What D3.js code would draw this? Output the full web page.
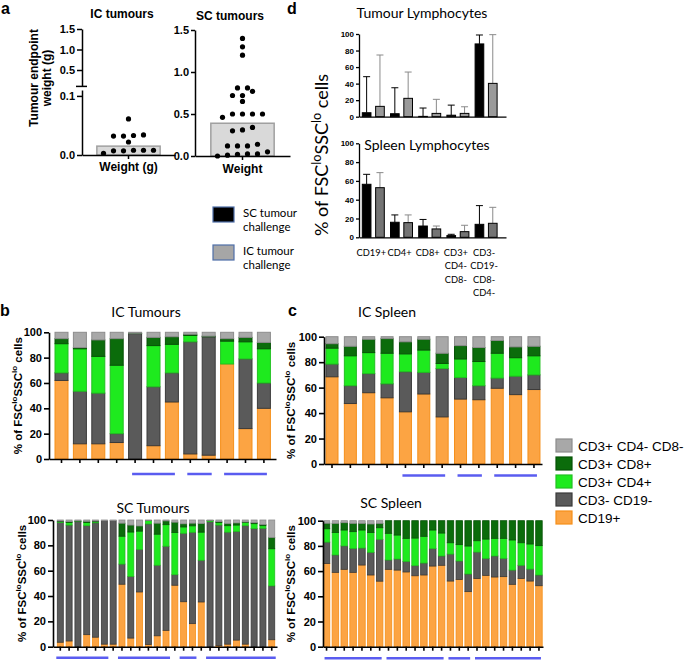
<!DOCTYPE html>
<html>
<head>
<meta charset="utf-8">
<script src="https://cdn.jsdelivr.net/npm/d3@7"></script>
<style>
body { margin: 0; background: #fff; }
svg { display: block; }
</style>
</head>
<body>
<svg id="fig" width="685" height="660"></svg>
<script>
/* ---------------- data ---------------- */
// panel a: tumour endpoint weights (g)
var icWeights = [0.007, 0.008, 0.007, 0.008, 0.003, 0.008, 0.022, 0.032, 0.032, 0.033, 0.034, 0.061];
var icWeightBar = 0.015;
var scWeights = [1.40, 1.30, 1.20, 0.81, 0.81, 0.77, 0.72, 0.72, 0.65, 0.50, 0.50, 0.50, 0.50, 0.46,
                 0.34, 0.31, 0.30, 0.14, 0.12, 0.12, 0.12, 0.05, 0.025, 0.025, 0.02, 0.01, 0.0];
var scWeightBar = 0.39;

// panel d: mean and SD, SC challenge (black) vs IC challenge (grey)
var lymphCats = ["CD19+", "CD4+", "CD8+", "CD3+ CD4- CD8-", "CD3- CD19- CD8- CD4-"];
var lymphLabels = [["CD19+"], ["CD4+"], ["CD8+"], ["CD3+", "CD4-", "CD8-"], ["CD3-", "CD19-", "CD8-", "CD4-"]];
var tumourSC = [4.8, 3.6, 0.4, 1.8, 88];
var tumourSCsd = [43.6, 31.4, 10.1, 12.2, 10.8];
var tumourIC = [12.5, 22.2, 4, 4, 40.3];
var tumourICsd = [62.1, 31.8, 17, 8, 58.9];
var spleenSC = [56.4, 16, 12, 1.8, 13.8];
var spleenSCsd = [10.6, 7.8, 7, 1.4, 19.9];
var spleenIC = [52.8, 15.6, 8.9, 6, 14.9];
var spleenICsd = [16, 8.2, 3.1, 6.8, 17];

// panels b, c: % of FSClo SSClo cells per animal
var popKeys = ["cd19", "dn", "cd4", "cd8", "other"];
var popNames = {cd19: "CD19+", dn: "CD3- CD19-", cd4: "CD3+ CD4+", cd8: "CD3+ CD8+", other: "CD3+ CD4- CD8-"};

var icTumCD19 = [62, 12, 12, 13, 0, 10.5, 45, 4, 3, 75, 24, 40];
var icTumDN = [6, 41.5, 40, 7, 99, 46.5, 23, 88.5, 93.5, 0, 55, 20];
var icTumCD4 = [23, 33.5, 29, 54, 0, 32.5, 22.5, 5, 0, 18, 13.5, 27];
var icTumCD8 = [4, 1, 13, 21, 0.3, 6.5, 6, 1, 0.5, 2, 3.5, 5];
var icTumOther = [5, 12, 6, 5, 0.7, 4, 3.5, 1.5, 3, 5, 4, 8];

var icSplCD19 = [68.5, 47.5, 56, 52, 41, 55, 37, 51, 50.5, 59.5, 54.5, 58.5];
var icSplDN = [10, 14, 15, 11, 31.5, 17, 38, 17, 11, 8, 14.5, 11.5];
var icSplCD4 = [12.5, 23.5, 16.5, 24, 14, 17.5, 4, 14.5, 19, 19.5, 14.5, 15];
var icSplCD8 = [3.5, 7.5, 10.5, 11.5, 9.5, 8.5, 8, 10.5, 11, 10, 8.5, 7.5];
var icSplOther = [5.5, 7.5, 2, 1.5, 4, 2, 13, 7, 8.5, 3, 8, 7.5];

var scTumCD19 = [3.5, 4.5, 0, 9.5, 7.5, 2, 2, 49.3, 6.8, 43.2, 1.8, 8.6, 12.9, 48.5, 35.5, 18.2, 35.3, 0, 0.9, 2, 5.2, 2, 0, 0, 5.5];
var scTumDN = [94.5, 91.5, 98.7, 86, 90.3, 97.5, 97.5, 15.9, 48.7, 33.5, 95.1, 55.7, 66.4, 8.3, 54, 72.1, 32.9, 98.6, 95.1, 88.4, 85.8, 93.5, 93.2, 93.5, 42.5];
var scTumCD4 = [0.7, 2, 0.3, 2.5, 0.8, 0, 0, 22, 35, 14.5, 2.6, 24.5, 17, 33.4, 5, 5.1, 22.2, 0.9, 1.9, 5.1, 5, 2.6, 3.9, 2, 29.3];
var scTumCD8 = [0.5, 0.7, 0.3, 1, 0.6, 0, 0, 10.3, 5.5, 4.1, 0.2, 8.7, 3, 8.1, 2.5, 2.1, 6.8, 0.2, 0.8, 1.7, 1.7, 0.4, 0.8, 1, 8.9];
var scTumOther = [0.8, 1.3, 0.7, 1, 0.8, 0.5, 0.5, 2.5, 4, 4.7, 0.3, 2.5, 0.7, 1.7, 3, 2.5, 2.8, 0.3, 1.3, 2.8, 2.3, 1.5, 2.1, 3.5, 13.8];

var scSplCD19 = [66, 59, 61.4, 59, 64.8, 56.9, 52, 61.4, 60.8, 59.3, 56.3, 56.9, 64, 64.6, 52.1, 53.4, 43.7, 54.2, 56.6, 55.3, 55.6, 49.5, 54.2, 52.1, 48.4];
var scSplDN = [17, 13.8, 18.6, 19, 13.5, 18, 33.2, 7.4, 8.8, 8.4, 8, 9.5, 13.8, 7.4, 21.4, 14.6, 14, 20.9, 13.5, 16.7, 14.5, 11.3, 10.4, 9.5, 8.5];
var scSplCD4 = [10.6, 17.9, 12.6, 13.3, 14.3, 15.8, 9.2, 21.2, 19, 18.3, 21.9, 21.2, 14.8, 18.2, 9, 13, 22.2, 9, 15.3, 14, 15.9, 23.9, 17.9, 19.9, 23.3];
var scSplCD8 = [4.4, 7.2, 5.8, 6.6, 5.3, 6.7, 3.5, 10, 11.4, 14, 13.8, 12.4, 7.4, 9.8, 17.5, 19, 20.1, 15.9, 14.6, 14, 14, 15.3, 17.5, 18.5, 19.8];
var scSplOther = [2, 2.1, 1.6, 2.1, 2.1, 2.6, 2.1, 0, 0, 0, 0, 0, 0, 0, 0, 0, 0, 0, 0, 0, 0, 0, 0, 0, 0];

// animals underlined in blue (first and last bar index of each group)
var icGroups = [[4, 6], [7, 8], [9, 11]];
var scTumGroups = [[0, 5], [7, 12], [14, 15], [17, 24]];
var scSplGroups = [[0, 6], [7, 13], [14, 16], [17, 24]];

/* ---------------- styles ---------------- */
var AR = "'Liberation Sans', Arial, sans-serif";
var CAL = "Lato, 'Open Sans', sans-serif";
var popFill = {cd19: "#fca443", dn: "#5a5a5a", cd4: "#1eea1e", cd8: "#0b6c0b", other: "#a8a8a8"};
var popStroke = {cd19: "#f58f1a", dn: "#3a3a3a", cd4: "#22c022", cd8: "#065206", other: "#8c8c8c"};
var BLUE = "#5a5cf0";

var svg = d3.select("#fig");

function styleAxis(g, size, sw) {
  g.attr("font-family", AR).attr("font-weight", "bold").attr("font-size", size);
  g.selectAll("path.domain").attr("stroke", "#000").attr("stroke-width", sw);
  g.selectAll(".tick line").attr("stroke", "#000").attr("stroke-width", sw);
  g.selectAll(".tick text").attr("fill", "#000");
}

// band scale with a given step, bar width and first bar position
function bandFor(n, x0, x1, step, barW, firstLeft) {
  var pi = 1 - barW / step;
  var po = ((x1 - x0) / step - n + pi) / 2;
  var align = (firstLeft - x0) / ((x1 - x0) - step * (n - pi));
  return d3.scaleBand().domain(d3.range(n)).range([x0, x1])
    .paddingInner(pi).paddingOuter(po).align(Math.max(0, Math.min(1, align)));
}

// column scatter: values close in y share a row, rows are centred
function swarm(vals, y, gap, thresh) {
  var pts = vals.map(function(v) { return {v: v, y: y(v)}; })
    .sort(function(a, b) { return b.y - a.y; });
  var rows = [], cur = null;
  pts.forEach(function(d) {
    if (!cur || cur[0].y - d.y > thresh) { cur = [d]; rows.push(cur); } else cur.push(d);
  });
  rows.forEach(function(r) {
    r.forEach(function(d, i) { d.dx = (i - (r.length - 1) / 2) * gap; });
  });
  return pts;
}

function fscLabel(x, y, size, family, weight) {
  var t = svg.append("text")
    .attr("transform", "translate(" + x + "," + y + ") rotate(-90)")
    .attr("text-anchor", "middle")
    .attr("font-family", family).attr("font-weight", weight).attr("font-size", size);
  var s = size * 0.4;
  t.append("tspan").text("% of FSC");
  t.append("tspan").attr("font-size", size * 0.7).attr("dy", -s).text("lo");
  t.append("tspan").attr("dy", s).text("SSC");
  t.append("tspan").attr("font-size", size * 0.7).attr("dy", -s).text("lo");
  t.append("tspan").attr("dy", s).text(" cells");
}

function letter(txt, x, y) {
  svg.append("text").attr("x", x).attr("y", y).attr("font-family", AR)
    .attr("font-weight", "bold").attr("font-size", 16).text(txt);
}

/* ---------------- panel a ---------------- */
letter("a", 1, 14);
letter("d", 287, 14);
letter("b", 0, 316);
letter("c", 288, 316);

function boldText(txt, x, y, size) {
  return svg.append("text").attr("x", x).attr("y", y).attr("text-anchor", "middle")
    .attr("font-family", AR).attr("font-weight", "bold").attr("font-size", size).text(txt);
}

// IC tumours (broken axis)
var icX = d3.scaleBand().domain(["Weight (g)"]).range([82, 175]).padding(0.19);
var icLow = d3.scaleLinear().domain([0, 0.11]).range([155, 90]);
var icHigh = d3.scaleLinear().domain([0.1, 1.5]).range([86.4, 29]);

svg.append("rect")
  .attr("x", icX("Weight (g)")).attr("width", icX.bandwidth())
  .attr("y", icLow(icWeightBar)).attr("height", icLow(0) - icLow(icWeightBar))
  .attr("fill", "#d9d9d9").attr("stroke", "#a0a0a0").attr("stroke-width", 1.5);

svg.append("g").selectAll("circle")
  .data(swarm(icWeights, icLow, 10, 5)).join("circle")
  .attr("cx", function(d) { return icX("Weight (g)") + icX.bandwidth() / 2 + d.dx; })
  .attr("cy", function(d) { return d.y; })
  .attr("r", 2.6).attr("fill", "#000");

var gIcHigh = svg.append("g").attr("transform", "translate(82,0)")
  .call(d3.axisLeft(icHigh).tickValues([0.5, 1, 1.5]).tickFormat(d3.format(".1f")).tickSize(5).tickSizeOuter(0).tickPadding(2));
styleAxis(gIcHigh, 11, 1.5);
svg.append("line").attr("x1", 76).attr("x2", 87).attr("y1", icHigh(0.1)).attr("y2", icHigh(0.1))
  .attr("stroke", "#000").attr("stroke-width", 1.5);
var gIcLow = svg.append("g").attr("transform", "translate(82,0)")
  .call(d3.axisLeft(icLow).tickValues([0, 0.1]).tickFormat(d3.format(".1f")).tickSize(5).tickSizeOuter(0).tickPadding(2));
styleAxis(gIcLow, 11, 1.5);
var gIcX = svg.append("g").attr("transform", "translate(0,155)")
  .call(d3.axisBottom(icX).tickSize(4).tickSizeOuter(0).tickPadding(3));
styleAxis(gIcX, 12, 1.5);

boldText("IC tumours", 122, 18, 12);
var yl = svg.append("text").attr("transform", "translate(38,78) rotate(-90)")
  .attr("text-anchor", "middle").attr("font-family", AR).attr("font-weight", "bold").attr("font-size", 12);
yl.append("tspan").attr("x", 0).attr("y", 0).text("Tumour endpoint");
yl.append("tspan").attr("x", 0).attr("y", 12.5).text("weight (g)");

// SC tumours
var scX = d3.scaleBand().domain(["Weight"]).range([195, 290]).padding(0.2);
var scY = d3.scaleLinear().domain([0, 1.5]).range([156, 30]);

svg.append("rect")
  .attr("x", scX("Weight")).attr("width", scX.bandwidth())
  .attr("y", scY(scWeightBar)).attr("height", scY(0) - scY(scWeightBar))
  .attr("fill", "#d9d9d9").attr("stroke", "#a0a0a0").attr("stroke-width", 1.5);

svg.append("g").selectAll("circle")
  .data(swarm(scWeights, scY, 10, 5)).join("circle")
  .attr("cx", function(d) { return scX("Weight") + scX.bandwidth() / 2 + d.dx; })
  .attr("cy", function(d) { return d.y; })
  .attr("r", 2.6).attr("fill", "#000");

var gScY = svg.append("g").attr("transform", "translate(195,0)")
  .call(d3.axisLeft(scY).tickValues([0, 0.5, 1, 1.5]).tickFormat(d3.format(".1f")).tickSize(4).tickSizeOuter(0).tickPadding(2));
styleAxis(gScY, 11, 1.5);
var gScX = svg.append("g").attr("transform", "translate(0,156)")
  .call(d3.axisBottom(scX).tickSize(4).tickSizeOuter(0).tickPadding(4));
styleAxis(gScX, 12, 1.5);
boldText("SC tumours", 230, 20, 12);

/* ---------------- legend (challenge) ---------------- */
var chLegend = [
  {fill: "#000", lines: ["SC tumour", "challenge"], y: 207},
  {fill: "#a6a6a6", lines: ["IC tumour", "challenge"], y: 245}
];
chLegend.forEach(function(d) {
  svg.append("rect").attr("x", 213).attr("y", d.y).attr("width", 21).attr("height", 15)
    .attr("fill", d.fill).attr("stroke", "#4f6fa8").attr("stroke-width", 1.2);
  d.lines.forEach(function(l, i) {
    svg.append("text").attr("x", 243).attr("y", d.y + 10 + i * 14)
      .attr("font-family", CAL).attr("font-size", 11.5).text(l);
  });
});

/* ---------------- panel d ---------------- */
var lymX = bandFor(5, 359, 506, 28.2, 22, 362.3).domain(lymphCats);
var lymSub = d3.scaleBand().domain(["SC", "IC"]).range([0, lymX.bandwidth()]).paddingInner(0.35);

function lymphChart(yBase, yTop, scVals, scSd, icVals, icSd, icFill, title, tx, ty) {
  var y = d3.scaleLinear().domain([0, 100]).range([yBase, yTop]);
  var g = svg.append("g");
  var series = [
    {key: "SC", vals: scVals, sd: scSd, fill: "#000", err: "#000"},
    {key: "IC", vals: icVals, sd: icSd, fill: icFill, err: "#8a8a8a"}
  ];
  series.forEach(function(s) {
    var pts = lymphCats.map(function(c, i) { return {c: c, v: s.vals[i], sd: s.sd[i]}; });
    var cx = function(d) { return lymX(d.c) + lymSub(s.key) + lymSub.bandwidth() / 2; };
    g.append("g").selectAll("line.err").data(pts).join("line")
      .attr("x1", cx).attr("x2", cx)
      .attr("y1", function(d) { return y(d.v); })
      .attr("y2", function(d) { return y(d.v + d.sd); })
      .attr("stroke", s.err).attr("stroke-width", 1);
    g.append("g").selectAll("line.cap").data(pts).join("line")
      .attr("x1", function(d) { return cx(d) - 3.5; })
      .attr("x2", function(d) { return cx(d) + 3.5; })
      .attr("y1", function(d) { return y(d.v + d.sd); })
      .attr("y2", function(d) { return y(d.v + d.sd); })
      .attr("stroke", s.err).attr("stroke-width", 1);
    g.append("g").selectAll("rect").data(pts).join("rect")
      .attr("x", function(d) { return lymX(d.c) + lymSub(s.key); })
      .attr("width", lymSub.bandwidth())
      .attr("y", function(d) { return y(d.v); })
      .attr("height", function(d) { return y(0) - y(d.v); })
      .attr("fill", s.fill).attr("stroke", "#000").attr("stroke-width", 1);
  });
  var ya = g.append("g").attr("transform", "translate(359,0)")
    .call(d3.axisLeft(y).tickValues([0, 20, 40, 60, 80, 100]).tickSize(3).tickSizeOuter(0).tickPadding(2));
  styleAxis(ya, 8, 1.3);
  var xa = g.append("g").attr("transform", "translate(0," + yBase + ")")
    .call(d3.axisBottom(lymX).tickSize(0).tickFormat(""));
  styleAxis(xa, 8, 1.3);
  svg.append("text").attr("x", tx).attr("y", ty).attr("text-anchor", "middle")
    .attr("font-family", CAL).attr("font-size", 14).text(title);
  return y;
}

lymphChart(116.7, 34, tumourSC, tumourSCsd, tumourIC, tumourICsd, "#9a9a9a", "Tumour Lymphocytes", 422, 18);
lymphChart(237.3, 143.3, spleenSC, spleenSCsd, spleenIC, spleenICsd, "#747474", "Spleen Lymphocytes", 427, 150);
fscLabel(328, 155, 18, CAL, "normal");

lymphCats.forEach(function(c, i) {
  lymphLabels[i].forEach(function(l, j) {
    svg.append("text").attr("x", lymX(c) + lymX.bandwidth() / 2 - 2).attr("y", 256 + j * 13.3)
      .attr("text-anchor", "middle").attr("font-family", CAL).attr("font-size", 9.3).text(l);
  });
});

/* ---------------- panels b, c ---------------- */
function stackPanel(p) {
  var rows = d3.range(p.n).map(function(i) {
    var r = {};
    popKeys.forEach(function(k) { r[k] = p.series[k][i]; });
    return r;
  });
  var layers = d3.stack().keys(popKeys)(rows);
  var x = bandFor(p.n, p.x0, p.x1, p.step, p.barW, p.firstLeft);
  var y = d3.scaleLinear().domain([0, 100]).range([p.yBase, p.yTop]);
  var g = svg.append("g");

  g.selectAll("g.layer").data(layers).join("g")
    .attr("fill", function(d) { return popFill[d.key]; })
    .attr("stroke", function(d) { return popStroke[d.key]; })
    .attr("stroke-width", p.sw)
    .selectAll("rect")
    .data(function(d) {
      return d.map(function(s, i) { return {s: s, i: i}; })
        .filter(function(e) { return e.s[1] - e.s[0] > 0; });
    })
    .join("rect")
    .attr("x", function(e) { return x(e.i); })
    .attr("width", x.bandwidth())
    .attr("y", function(e) { return y(e.s[1]); })
    .attr("height", function(e) { return y(e.s[0]) - y(e.s[1]); });

  var ya = g.append("g").attr("transform", "translate(" + p.x0 + ",0)")
    .call(d3.axisLeft(y).tickValues([0, 20, 40, 60, 80, 100]).tickSize(5).tickSizeOuter(0).tickPadding(2));
  styleAxis(ya, 11, 1.6);
  var xa = g.append("g").attr("transform", "translate(0," + p.yBase + ")")
    .call(d3.axisBottom(x).tickFormat("").tickSize(4).tickSizeOuter(0));
  styleAxis(xa, 11, 1.6);

  p.groups.forEach(function(gr) {
    g.append("line")
      .attr("x1", x(gr[0]) + x.bandwidth() / 2 - p.pad)
      .attr("x2", x(gr[1]) + x.bandwidth() / 2 + p.pad)
      .attr("y1", p.lineY).attr("y2", p.lineY)
      .attr("stroke", BLUE).attr("stroke-width", 2.5);
  });

  svg.append("text").attr("x", p.titleX).attr("y", p.titleY).attr("text-anchor", "middle")
    .attr("font-family", CAL).attr("font-size", 14).text(p.title);
  fscLabel(p.labelX, (p.yBase + p.yTop) / 2, 11.5, AR, "bold");
}

stackPanel({
  series: {cd19: icTumCD19, dn: icTumDN, cd4: icTumCD4, cd8: icTumCD8, other: icTumOther},
  n: 12, x0: 49, x1: 276, step: 18.4, barW: 13, firstLeft: 55, sw: 1,
  yBase: 459, yTop: 332.3, groups: icGroups, pad: 3, lineY: 474,
  title: "IC Tumours", titleX: 146, titleY: 317, labelX: 22
});
stackPanel({
  series: {cd19: icSplCD19, dn: icSplDN, cd4: icSplCD4, cd8: icSplCD8, other: icSplOther},
  n: 12, x0: 324, x1: 542, step: 18.36, barW: 12, firstLeft: 326, sw: 1,
  yBase: 464, yTop: 336.7, groups: icGroups, pad: 3, lineY: 475.5,
  title: "IC Spleen", titleX: 387, titleY: 317, labelX: 295
});
stackPanel({
  series: {cd19: scTumCD19, dn: scTumDN, cd4: scTumCD4, cd8: scTumCD8, other: scTumOther},
  n: 25, x0: 53, x1: 277, step: 8.81, barW: 6, firstLeft: 57.3, sw: 0.8,
  yBase: 646.7, yTop: 520, groups: scTumGroups, pad: 4, lineY: 657.7,
  title: "SC Tumours", titleX: 153, titleY: 513, labelX: 26
});
stackPanel({
  series: {cd19: scSplCD19, dn: scSplDN, cd4: scSplCD4, cd8: scSplCD8, other: scSplOther},
  n: 25, x0: 323, x1: 543, step: 8.85, barW: 6.5, firstLeft: 323.3, sw: 0.8,
  yBase: 646.7, yTop: 520.7, groups: scSplGroups, pad: 2, lineY: 658.3,
  title: "SC Spleen", titleX: 391, titleY: 508, labelX: 295
});

/* ---------------- population legend ---------------- */
var legOrder = ["other", "cd8", "cd4", "dn", "cd19"];
var legY = d3.scalePoint().domain(legOrder).range([439, 511]);
var leg = svg.append("g").selectAll("g").data(legOrder).join("g")
  .attr("transform", function(k) { return "translate(556," + legY(k) + ")"; });
leg.append("rect").attr("width", 16).attr("height", 13)
  .attr("fill", function(k) { return popFill[k]; })
  .attr("stroke", function(k) { return popStroke[k]; }).attr("stroke-width", 1.2);
leg.append("text").attr("x", 22).attr("y", 11.5)
  .attr("font-family", AR).attr("font-size", 13.5)
  .text(function(k) { return popNames[k]; });
</script>
</body>
</html>
